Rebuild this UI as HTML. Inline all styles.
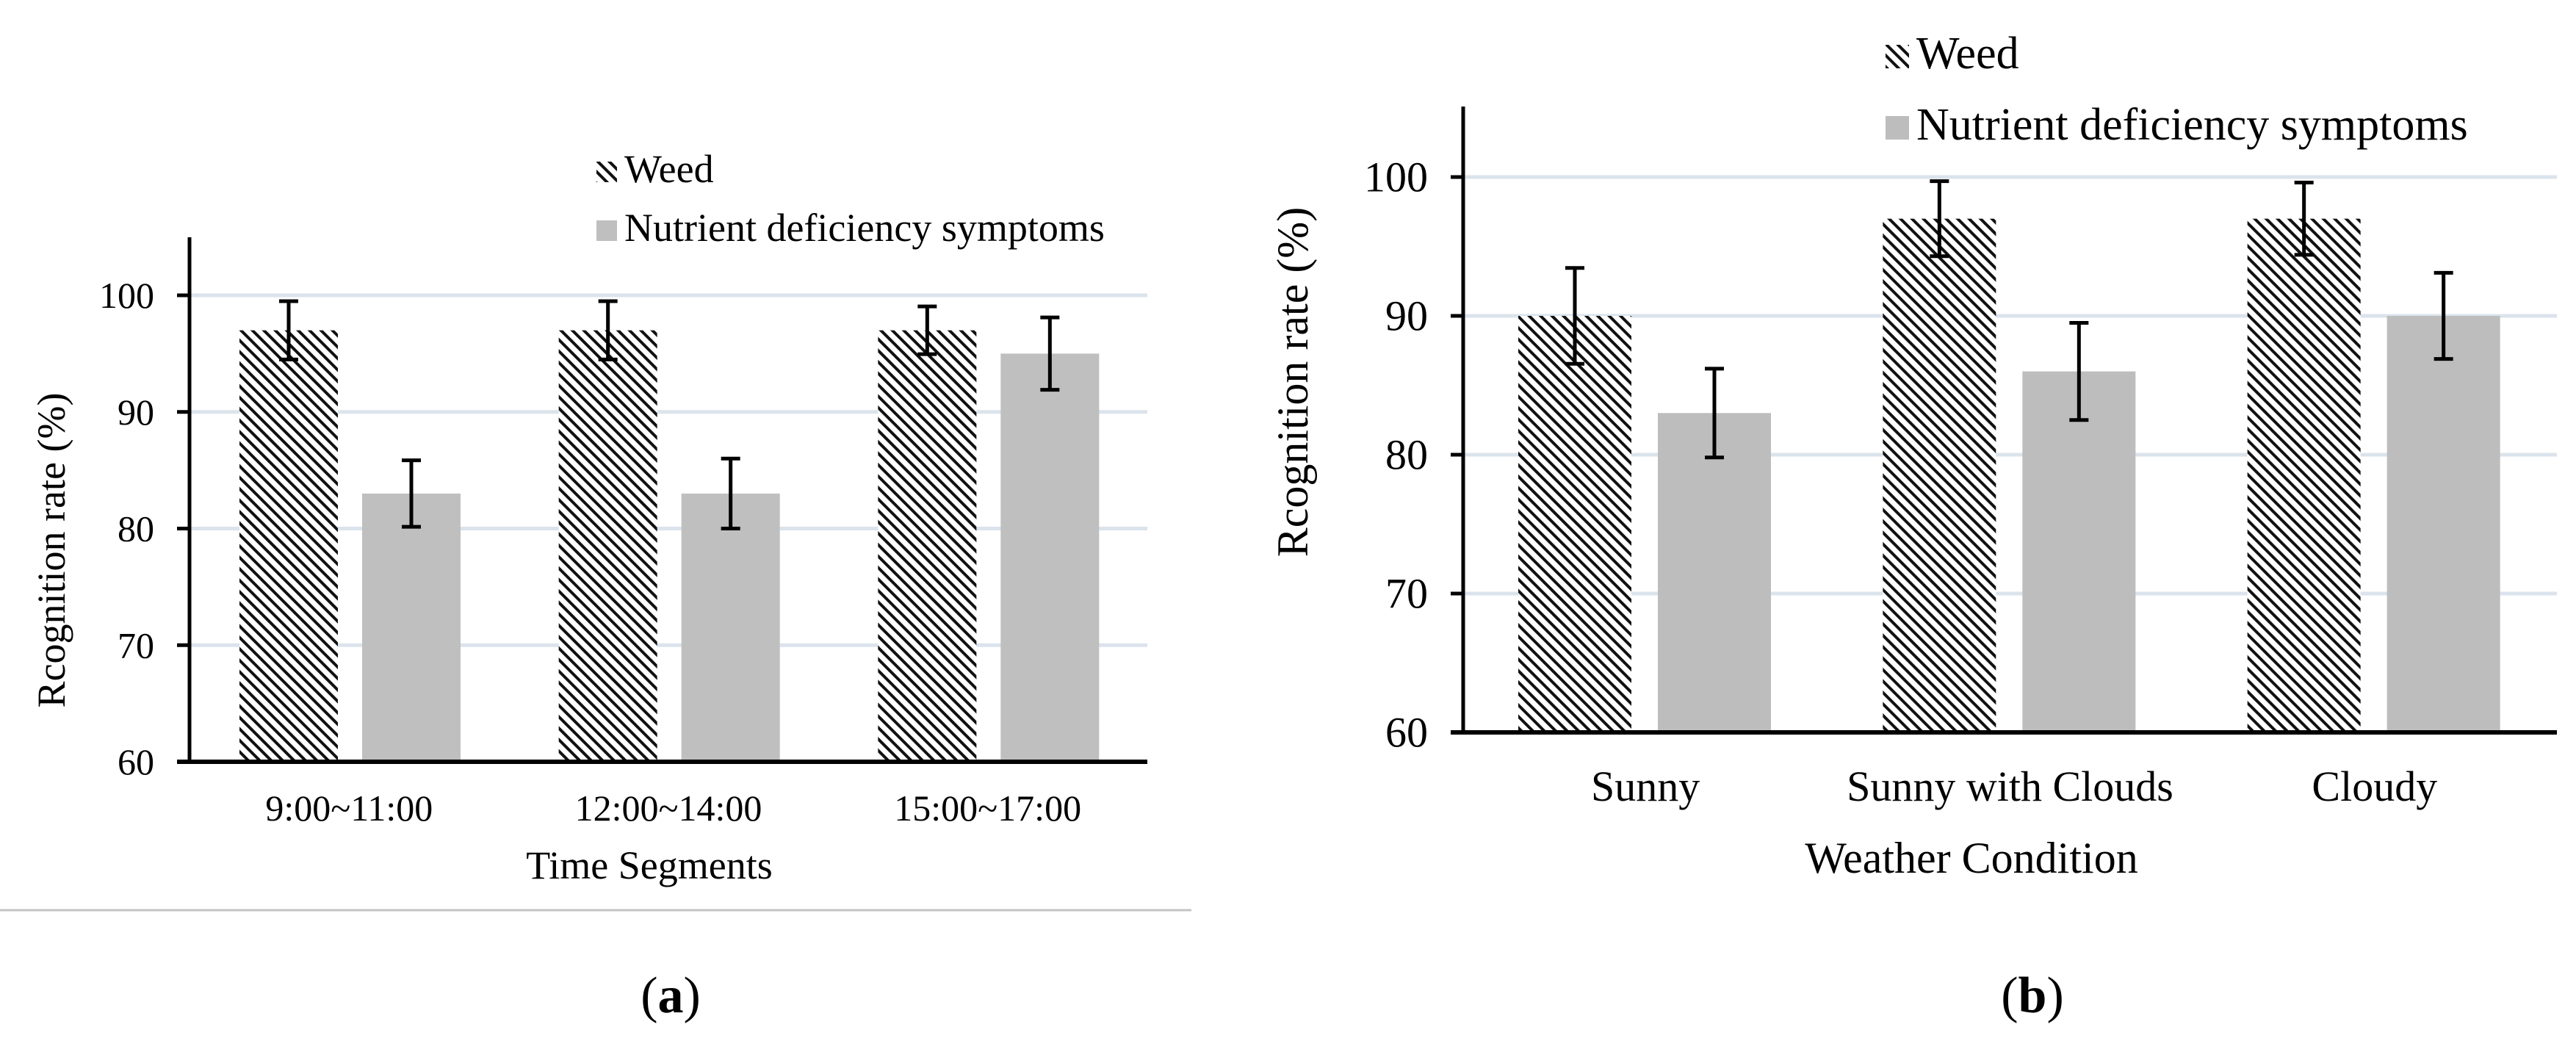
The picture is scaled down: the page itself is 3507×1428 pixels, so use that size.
<!DOCTYPE html>
<html><head><meta charset="utf-8"><style>
html,body{margin:0;padding:0;background:#fff;}
svg{display:block;font-family:"Liberation Serif",serif;}
</style></head><body>
<svg id="fig" width="3507" height="1428" viewBox="0 0 3507 1428" xmlns="http://www.w3.org/2000/svg">
<defs>
<pattern id="hatch" patternUnits="userSpaceOnUse" width="11" height="11" patternTransform="rotate(-45)">
<rect width="11" height="11" fill="#fff"/>
<rect x="0" y="0" width="4" height="11" fill="#111"/>
</pattern>
</defs>
<line x1="0" y1="1239" x2="1622" y2="1239" stroke="#c4c4c4" stroke-width="3"/>
<text x="913" y="1378" font-size="70" text-anchor="middle">(<tspan font-weight="bold">a</tspan>)</text>
<text x="2767" y="1378" font-size="70" text-anchor="middle">(<tspan font-weight="bold">b</tspan>)</text>
</svg>
<script>
// Chart A data
const catsA = ["9:00~11:00", "12:00~14:00", "15:00~17:00"];
const weedA = [97, 97, 97];
const weedErrA = [2.5, 2.5, 2.05];
const nutA = [83, 83, 95];
const nutErrA = [2.85, 3.0, 3.1];
// Chart B data
const catsB = ["Sunny", "Sunny with Clouds", "Cloudy"];
const weedB = [90, 97, 97];
const weedErrB = [3.45, 2.7, 2.6];
const nutB = [83, 86, 90];
const nutErrB = [3.2, 3.5, 3.1];
const yTicks = [60, 70, 80, 90, 100];

const NS = "http://www.w3.org/2000/svg";
const svg = document.getElementById("fig");
function mk(tag, attrs, parent) {
  const e = document.createElementNS(NS, tag);
  for (const k in attrs) e.setAttribute(k, attrs[k]);
  (parent || svg).appendChild(e);
  return e;
}

function drawChart(cfg) {
  const g = mk("g", {});
  
  
  const y = v => cfg.y60 - (v - 60) * (cfg.y60 - cfg.y100) / 40;
  const cw = (cfg.right - cfg.ax) / cfg.cats.length;
  yTicks.forEach(t => {
    if (t > 60) {
      const gl = mk("line", {x1: cfg.ax, x2: cfg.right, y1: y(t), y2: y(t), stroke: "#dbe3ec", "stroke-width": 5}, g);
      
      
    }
    const tk = mk("line", {x1: cfg.ax - 17, x2: cfg.ax, y1: y(t), y2: y(t), stroke: "#000", "stroke-width": 5}, g);
    
    
    const tl = mk("text", {x: cfg.ax - 48, y: y(t) + cfg.tick * 0.34, "font-size": cfg.tick, "text-anchor": "end"}, g);
    tl.textContent = t;
    
    
  });
  cfg.cats.forEach((c, i) => {
    const x0 = cfg.ax + i * cw;
    const wx = x0 + cfg.off, nx = wx + cfg.bw + cfg.gap;
    const wb = mk("rect", {x: wx, y: y(cfg.weed[i]), width: cfg.bw, height: y(60) - y(cfg.weed[i]), fill: "url(#hatch)"}, g);
    
    
    const nb = mk("rect", {x: nx, y: y(cfg.nut[i]), width: cfg.bw, height: y(60) - y(cfg.nut[i]), fill: cfg.gray}, g);
    
    
    [[wx, cfg.weed[i], cfg.weedErr[i]], [nx, cfg.nut[i], cfg.nutErr[i]]].forEach(([bx, v, e]) => {
      const cx = bx + cfg.bw / 2;
      const eb = mk("path", {d: `M${cx},${y(v + e)}V${y(v - e)}M${cx - 13},${y(v + e)}H${cx + 13}M${cx - 13},${y(v - e)}H${cx + 13}`, stroke: "#000", "stroke-width": 5, fill: "none"}, g);
      
      
    });
    const cl = mk("text", {x: x0 + cw / 2, y: cfg.catY, "font-size": cfg.tick, "text-anchor": "middle"}, g);
    cl.textContent = c;
    
    
  });
  const ya = mk("line", {x1: cfg.ax, x2: cfg.ax, y1: cfg.top, y2: y(60), stroke: "#000", "stroke-width": 5}, g);
  
  
  const xa = mk("line", {x1: cfg.ax - 17, x2: cfg.right, y1: y(60), y2: y(60), stroke: "#000", "stroke-width": 6}, g);
  
  
  const xt = mk("text", {x: cfg.xtX, y: cfg.xtY, "font-size": cfg.title, "text-anchor": "middle"}, g);
  xt.textContent = cfg.xTitle;
  
  
  const yt = mk("text", {x: 0, y: 0, "font-size": cfg.title, "text-anchor": "middle", transform: `translate(${cfg.ytX},${cfg.ytY}) rotate(-90)`}, g);
  yt.textContent = "Rcognition rate (%)";
  
  
  const lw = mk("rect", {x: cfg.legX, y: cfg.leg1Y - cfg.lm, width: cfg.lm, height: cfg.lm, fill: "url(#hatch)"}, g);
  
  
  const lt1 = mk("text", {x: cfg.legX + cfg.lm + 10, y: cfg.leg1Y, "font-size": cfg.leg}, g);
  lt1.textContent = "Weed";
  
  
  const ln = mk("rect", {x: cfg.legX, y: cfg.leg2Y - cfg.lm, width: cfg.lm, height: cfg.lm, fill: cfg.gray}, g);
  
  
  const lt2 = mk("text", {x: cfg.legX + cfg.lm + 10, y: cfg.leg2Y, "font-size": cfg.leg}, g);
  lt2.textContent = "Nutrient deficiency symptoms";
  
  
}

drawChart({name: "chart-time-segments", cats: catsA, weed: weedA, weedErr: weedErrA, nut: nutA, nutErr: nutErrA,
  ax: 258, right: 1562, y60: 1037, y100: 402, top: 323, off: 68, bw: 134, gap: 33, gray: "#bfbfbf",
  tick: 50, catY: 1117, title: 54, xTitle: "Time Segments", xtX: 884, xtY: 1196, ytX: 88, ytY: 749,
  legX: 812, leg1Y: 248, leg2Y: 328, lm: 28, leg: 54});
drawChart({name: "chart-weather", cats: catsB, weed: weedB, weedErr: weedErrB, nut: nutB, nutErr: nutErrB,
  ax: 1992, right: 3481, y60: 997, y100: 241, top: 145, off: 75, bw: 154, gap: 36, gray: "#bdbdbd",
  tick: 58, catY: 1090, title: 60, xTitle: "Weather Condition", xtX: 2684, xtY: 1188, ytX: 1780, ytY: 520,
  legX: 2567, leg1Y: 93, leg2Y: 190, lm: 32, leg: 62});
</script>
</body></html>
